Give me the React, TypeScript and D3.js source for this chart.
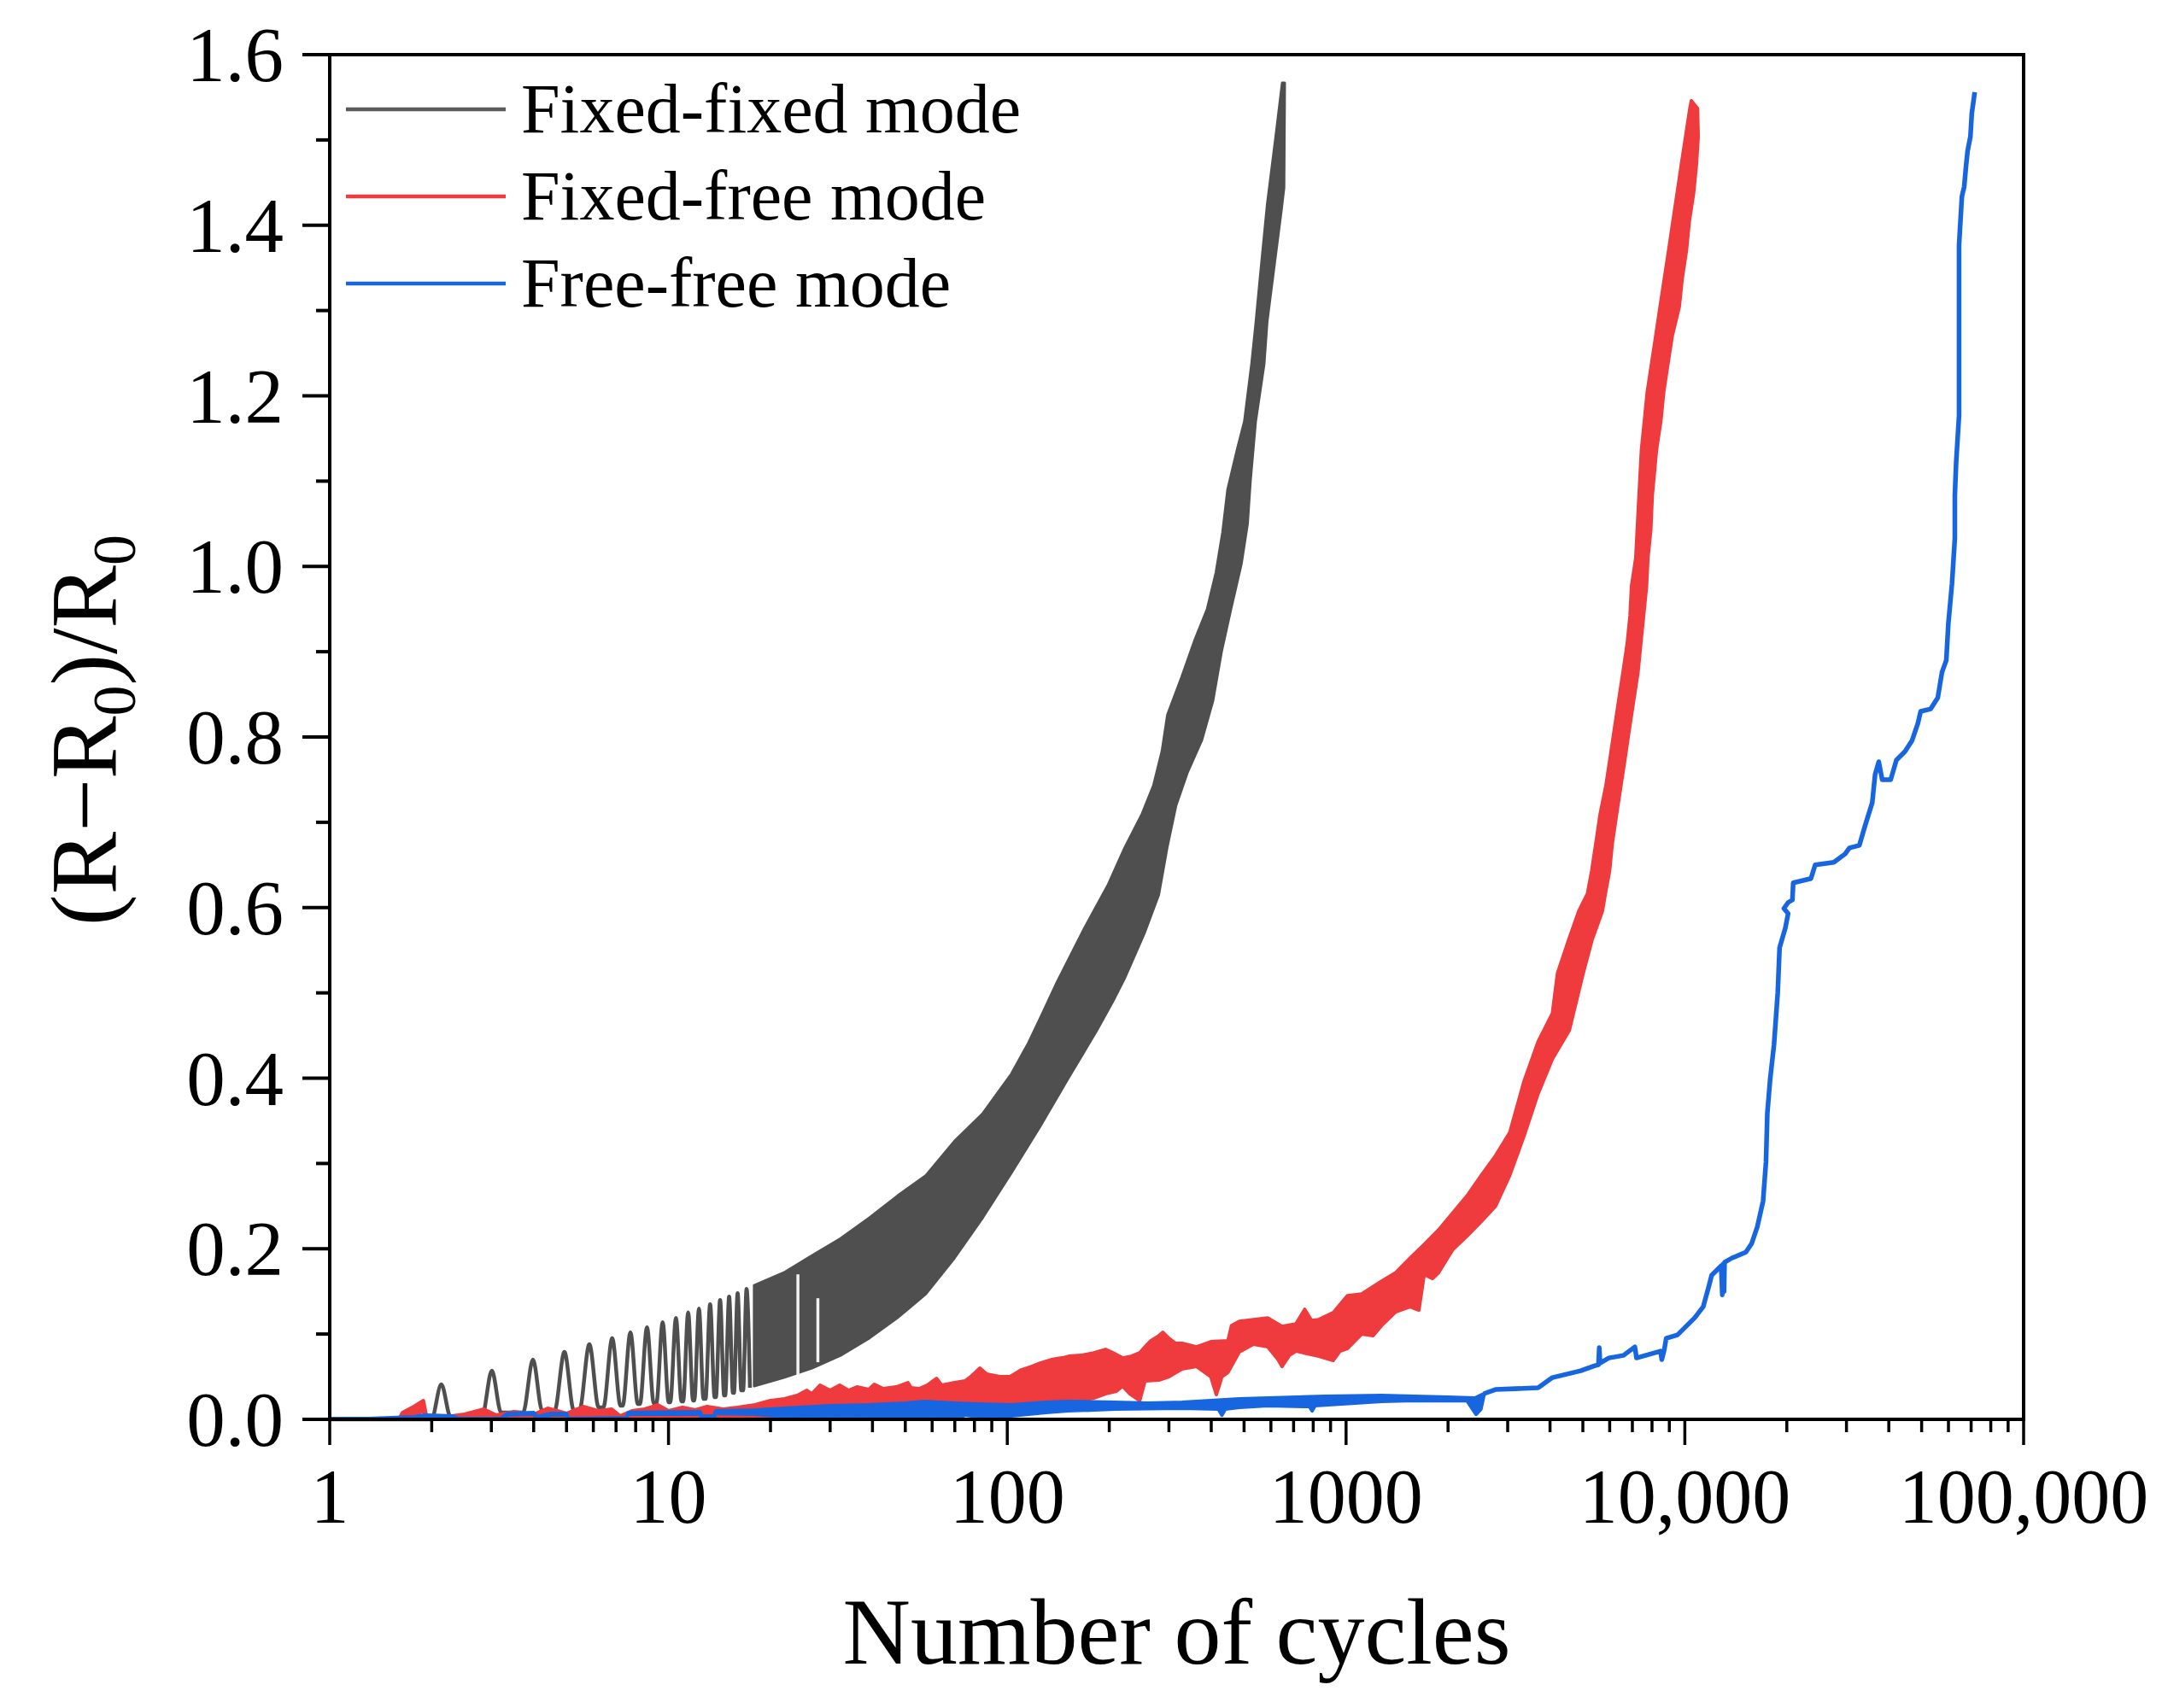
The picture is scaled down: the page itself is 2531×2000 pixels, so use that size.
import React from "react";
import * as d3 from "d3";

// ---------------- data ----------------
// Fixed-fixed mode: discrete early resistance pulses (cycle of peak, peak value, following trough)
const ffPeakCycle = [2.135, 3.01, 3.98, 4.93, 5.84, 6.82, 7.72, 8.64, 9.61, 10.52, 11.43, 12.3, 13.27, 14.2, 15.1, 16.0, 17.0];
const ffPeakValue = [0.041, 0.057, 0.07, 0.079, 0.088, 0.095, 0.102, 0.108, 0.114, 0.119, 0.1255, 0.13, 0.135, 0.14, 0.144, 0.148, 0.153];
const ffTroughValue = [0.003, 0.008, 0.01, 0.011, 0.014, 0.016, 0.018, 0.019, 0.02, 0.021, 0.022, 0.024, 0.026, 0.028, 0.031, 0.034, 0.037];

// Fixed-fixed mode: dense oscillation band (upper / lower envelopes) [cycles, value]
const ffUpper: [number, number][] = [
  [17.9, 0.157], [21.9, 0.172], [26.5, 0.192], [32.2, 0.212], [39.1, 0.236], [47.4, 0.262], [57.5, 0.286],
  [69.8, 0.326], [84.8, 0.359], [102.8, 0.405], [115, 0.44], [126, 0.473], [140, 0.512], [169, 0.576],
  [198, 0.626], [222, 0.67], [250, 0.71], [270, 0.743], [286, 0.783], [297, 0.826], [327, 0.87], [357, 0.913],
  [389, 0.95], [413, 0.993], [432, 1.04], [447, 1.09], [477, 1.137], [501, 1.17], [526, 1.237], [541, 1.284],
  [557, 1.337], [585, 1.424], [620, 1.504], [648, 1.567],
];
const ffLower: [number, number][] = [
  [17.9, 0.039], [21.9, 0.049], [26.5, 0.06], [32.2, 0.075], [39.1, 0.095], [47.4, 0.119], [57.5, 0.147],
  [69.8, 0.189], [84.8, 0.237], [102.8, 0.289], [124.8, 0.343], [151.4, 0.4], [183.8, 0.456], [205, 0.49],
  [222, 0.517], [254, 0.57], [280, 0.615], [297, 0.672], [315, 0.72], [340, 0.758], [375, 0.796], [405, 0.843],
  [429, 0.9], [455, 0.946], [491, 1.003], [512, 1.05], [522, 1.1], [541, 1.17], [573, 1.237], [585, 1.287],
  [607, 1.337], [644, 1.417], [656, 1.444], [659, 1.567],
];
// pale drop-out lines inside the fixed-fixed band
const ffGapCycle = [24.1, 27.6];
const ffGapTop = [0.17, 0.142];
const ffGapBottom = [0.052, 0.067];

// Fixed-free mode (upper / lower envelopes)
const redUpper: [number, number][] = [
  [1, 0], [1.6, 0], [1.64, 0.008], [1.77, 0.015], [1.89, 0.022], [1.93, 0.004], [2.2, 0.003], [2.5, 0.006],
  [2.85, 0.012], [3.1, 0.005], [3.5, 0.009], [4.0, 0.006], [4.4, 0.013], [5.0, 0.007], [5.6, 0.015], [6.2, 0.01],
  [6.8, 0.012], [7.2, 0.004], [7.8, 0.01], [8.5, 0.012], [9.3, 0.017], [10, 0.01], [11, 0.014], [12, 0.011],
  [13, 0.015], [14.5, 0.012], [16, 0.014], [18, 0.017], [20, 0.022], [22, 0.024], [24, 0.028], [25.6, 0.034],
  [26.5, 0.03], [28, 0.04], [30, 0.034], [32, 0.04], [34, 0.034], [36, 0.038], [39, 0.035], [40.5, 0.041],
  [43, 0.036], [47, 0.038], [50.9, 0.043], [52, 0.037], [55, 0.036], [58, 0.04], [61.8, 0.048], [64, 0.04],
  [70, 0.043], [75, 0.045], [78, 0.05], [80, 0.054], [83, 0.06], [87, 0.053], [95, 0.05], [102, 0.05],
  [110, 0.058], [118, 0.062], [125, 0.066], [135, 0.07], [145, 0.072], [152, 0.074], [165, 0.075], [180, 0.078],
  [195, 0.082], [205, 0.078], [219, 0.072], [232, 0.074], [246, 0.078], [255, 0.085], [265, 0.092], [280, 0.098],
  [288, 0.102], [300, 0.095], [314, 0.089], [330, 0.089], [362, 0.085], [399, 0.091], [448, 0.092], [459, 0.11],
  [484, 0.115], [533, 0.117], [587, 0.119], [647, 0.109], [712, 0.112], [755, 0.129], [790, 0.116], [831, 0.117],
  [916, 0.125], [1009, 0.145], [1112, 0.147], [1273, 0.162], [1402, 0.172], [1545, 0.189], [1701, 0.205],
  [1875, 0.222], [2065, 0.242], [2275, 0.262], [2506, 0.286], [2761, 0.309], [3041, 0.336], [3350, 0.396],
  [3690, 0.443], [4065, 0.476], [4208, 0.523], [4549, 0.563], [4866, 0.596], [5157, 0.616], [5309, 0.643],
  [5465, 0.676], [5626, 0.71], [5848, 0.743], [6020, 0.776], [6198, 0.81], [6380, 0.843], [6568, 0.876],
  [6761, 0.91], [6893, 0.943], [6960, 0.977], [7164, 1.01], [7250, 1.05], [7447, 1.137], [7593, 1.17],
  [7743, 1.204], [7970, 1.237], [8204, 1.27], [8448, 1.304], [8697, 1.337], [8953, 1.37], [9216, 1.404],
  [9485, 1.437], [9765, 1.471], [10053, 1.504], [10350, 1.537], [10452, 1.546],
];
const redLower: [number, number][] = [
  [1, 0], [1.6, 0], [1.77, 0.004], [1.89, 0.01], [1.93, 0], [18, 0], [20, 0.002], [22, 0.003], [24, 0.002],
  [26.5, 0.004], [30, 0.004], [32, 0.005], [36, 0.006], [39, 0.008], [43, 0.005], [47, 0.006], [52, 0.008],
  [58, 0.009], [66, 0.01], [75, 0.012], [80, 0.015], [87, 0.016], [102, 0.016], [118, 0.019], [135, 0.021],
  [152, 0.023], [165, 0.022], [180, 0.025], [195, 0.03], [210, 0.033], [219, 0.039], [230, 0.03], [246, 0.022],
  [255, 0.045], [280, 0.046], [300, 0.05], [328, 0.059], [362, 0.062], [399, 0.05], [414, 0.029], [430, 0.05],
  [448, 0.055], [484, 0.079], [533, 0.088], [587, 0.085], [630, 0.07], [647, 0.062], [680, 0.075], [712, 0.08],
  [831, 0.074], [916, 0.069], [960, 0.08], [1009, 0.083], [1112, 0.1], [1200, 0.098], [1273, 0.11], [1402, 0.126],
  [1545, 0.132], [1640, 0.128], [1701, 0.17], [1800, 0.165], [1875, 0.172], [2065, 0.199], [2275, 0.215],
  [2506, 0.232], [2761, 0.25], [3041, 0.286], [3350, 0.332], [3690, 0.382], [4065, 0.4225], [4560, 0.456],
  [5010, 0.523], [5330, 0.563], [5711, 0.596], [5823, 0.616], [5995, 0.643], [6111, 0.676], [6291, 0.71],
  [6476, 0.743], [6667, 0.776], [6863, 0.81], [7065, 0.843], [7273, 0.876], [7415, 0.91], [7560, 0.943],
  [7708, 0.977], [7782, 1.01], [7934, 1.043], [8014, 1.083], [8249, 1.137], [8491, 1.17], [8659, 1.204],
  [8911, 1.237], [9177, 1.27], [9625, 1.304], [9817, 1.337], [10107, 1.37], [10302, 1.404], [10609, 1.437],
  [10818, 1.471], [10950, 1.504], [10900, 1.537],
];

// Free-free mode: noisy early band + single trace
const blueUpper: [number, number][] = [
  [1, 0.001], [1.3, 0.001], [1.77, 0.003], [1.9, 0.005], [2.3, 0.004], [2.4, 0.001], [3.2, 0.001], [3.35, 0.007],
  [4.0, 0.008], [4.1, 0.003], [4.5, 0.007], [5.0, 0.007], [5.05, 0.001], [7.5, 0.002], [7.6, 0.008], [12.4, 0.009],
  [12.5, 0.004], [13.6, 0.004], [13.8, 0.01], [18, 0.011], [22, 0.013], [30, 0.016], [39, 0.017], [50, 0.019],
  [57, 0.021], [70, 0.019], [82, 0.018], [103, 0.017], [130, 0.02], [151, 0.021], [208, 0.02], [260, 0.019],
  [328, 0.02], [484, 0.024], [864, 0.027], [1273, 0.028], [2000, 0.026], [2400, 0.025], [2550, 0.03],
];
const blueLower: [number, number][] = [
  [1, 0], [1.77, 0.001], [1.9, 0.002], [2.3, 0.002], [2.4, 0], [3.2, 0], [3.35, 0.005], [4.0, 0.006], [4.1, 0.001],
  [4.5, 0.005], [5.0, 0.005], [5.05, 0], [7.5, 0], [7.6, 0.006], [12.4, 0.006], [12.5, 0.002], [13.6, 0.002],
  [13.8, 0.007], [18, 0.006], [22, 0.003], [39, 0.004], [57, 0.004], [68, 0.002], [70, 0], [75, 0.005],
  [82, 0.003], [90, 0], [103, 0.004], [130, 0.008], [151, 0.01], [208, 0.012], [328, 0.013], [420, 0.012],
  [430, 0.005], [440, 0.012], [484, 0.014], [587, 0.016], [780, 0.015], [794, 0.01], [810, 0.016], [1273, 0.021],
  [1500, 0.022], [2275, 0.022], [2420, 0.006], [2500, 0.012], [2550, 0.028],
];
const blueTail: [number, number][] = [
  [2550, 0.03], [2761, 0.035], [3690, 0.037], [4065, 0.049], [4925, 0.057], [5430, 0.063], [5560, 0.064],
  [5590, 0.084], [5620, 0.066], [5967, 0.072], [6590, 0.075], [7120, 0.085], [7200, 0.072], [8480, 0.08],
  [8550, 0.07], [8700, 0.082], [8810, 0.095], [9510, 0.099], [10690, 0.119], [11330, 0.132], [11770, 0.156],
  [12000, 0.169], [12800, 0.18], [12900, 0.146], [12970, 0.182], [13050, 0.15], [13100, 0.184], [13750, 0.189],
  [15140, 0.196], [15740, 0.206], [16370, 0.226], [17020, 0.256], [17360, 0.302], [17520, 0.359], [17860, 0.399],
  [18330, 0.439], [18800, 0.5], [19040, 0.553], [19795, 0.576], [20180, 0.593], [19605, 0.599], [20180, 0.606],
  [20770, 0.609], [20890, 0.629], [23560, 0.634], [24250, 0.65], [27510, 0.653], [29730, 0.663], [30600, 0.67],
  [32750, 0.673], [34040, 0.696], [35740, 0.723], [36440, 0.756], [37360, 0.771], [38240, 0.75], [40510, 0.75],
  [42120, 0.773], [44640, 0.783], [46870, 0.796], [48730, 0.816], [49660, 0.83], [53180, 0.833], [55800, 0.846],
  [57420, 0.876], [59120, 0.89], [59950, 0.933], [61460, 0.98], [62660, 1.033], [62660, 1.083], [63240, 1.123],
  [64480, 1.177], [64480, 1.377], [65740, 1.434], [66760, 1.445], [67680, 1.471], [68330, 1.487], [69660, 1.504],
  [70310, 1.531], [71720, 1.556],
];

// axes
const yTickValues = [0, 0.2, 0.4, 0.6, 0.8, 1.0, 1.2, 1.4, 1.6];
const yTickLabels = ["0.0", "0.2", "0.4", "0.6", "0.8", "1.0", "1.2", "1.4", "1.6"];
const xTickValues = [1, 10, 100, 1000, 10000, 100000];
const xTickLabels = ["1", "10", "100", "1000", "10,000", "100,000"];
const seriesNames = ["Fixed-fixed mode", "Fixed-free mode", "Free-free mode"];

// ---------------- layout / style ----------------
const W = 2531;
const H = 2000;
const X0 = 386, X1 = 2369, YB = 1662, YT = 64;
const FONT = '"Liberation Serif", "Times New Roman", Times, serif';
const GRAY = "#4f4f4f";
const RED = "#ef3b3d";
const BLUE = "#1766e0";
const seriesColors = ["#5a5a5a", RED, BLUE];

const x = d3.scaleLog().domain([1, 100000]).range([X0, X1]);
const y = d3.scaleLinear().domain([0, 1.6]).range([YB, YT]);

const lineGen = d3.line<[number, number]>().x((d) => x(d[0])).y((d) => y(d[1]));
const pulseGen = d3
  .line<[number, number]>()
  .x((d) => x(d[0]))
  .y((d) => y(d[1]))
  .curve(d3.curveMonotoneX);

function bandPath(upper: [number, number][], lower: [number, number][]) {
  const pts = [...upper, ...lower.slice().reverse()];
  return (lineGen(pts) || "") + "Z";
}

function pulsePoints(): [number, number][] {
  const pts: [number, number][] = [[1, 0]];
  ffPeakCycle.forEach((c, i) => {
    const left = i > 0 ? c - ffPeakCycle[i - 1] : 1;
    const right = i < ffPeakCycle.length - 1 ? ffPeakCycle[i + 1] - c : 0.9;
    const h = Math.min(0.065 * c, 0.44 * Math.min(left, right));
    const prevT = i > 0 ? ffTroughValue[i - 1] : 0;
    pts.push([c - h, prevT], [c, ffPeakValue[i]], [c + h, ffTroughValue[i]]);
  });
  return pts;
}

export default function App() {
  const minorX: number[] = [];
  [1, 10, 100, 1000, 10000].forEach((d) => {
    for (let k = 2; k <= 9; k++) minorX.push(d * k);
  });
  const minorY = [0.1, 0.3, 0.5, 0.7, 0.9, 1.1, 1.3, 1.5];
  const legendY = [128, 230, 332];

  return (
    <svg
      width={W}
      height={H}
      viewBox={`0 0 ${W} ${H}`}
      style={{ position: "absolute", left: 0, top: 0, background: "#fff" }}
      fontFamily={FONT}
    >
      <rect x={0} y={0} width={W} height={H} fill="#fff" />
      <defs>
        <clipPath id="plotClip">
          <rect x={X0} y={YT} width={X1 - X0} height={YB - YT + 4} />
        </clipPath>
      </defs>

      <g clipPath="url(#plotClip)">
        {/* Fixed-fixed */}
        <path d={pulseGen(pulsePoints()) || ""} fill="none" stroke={GRAY} strokeWidth={4.5} strokeLinejoin="round" />
        <path d={bandPath(ffUpper, ffLower)} fill={GRAY} stroke={GRAY} strokeWidth={3} strokeLinejoin="round" />
        {ffGapCycle.map((c, i) => (
          <line
            key={"gap" + i}
            x1={x(c)}
            x2={x(c)}
            y1={y(ffGapTop[i])}
            y2={y(ffGapBottom[i])}
            stroke="#f2f2f2"
            strokeWidth={3.5}
          />
        ))}
        {/* Fixed-free */}
        <path d={bandPath(redUpper, redLower)} fill={RED} stroke={RED} strokeWidth={4} strokeLinejoin="round" />
        {/* Free-free */}
        <path d={bandPath(blueUpper, blueLower)} fill={BLUE} stroke={BLUE} strokeWidth={4.2} strokeLinejoin="round" />
        <path d={lineGen(blueTail) || ""} fill="none" stroke={BLUE} strokeWidth={5.5} strokeLinejoin="round" />
      </g>

      {/* frame */}
      <rect x={X0} y={YT} width={X1 - X0} height={YB - YT} fill="none" stroke="#000" strokeWidth={4} />

      {/* y ticks */}
      {yTickValues.map((v, i) => (
        <g key={"yt" + i}>
          <line x1={X0 - 32} x2={X0} y1={y(v)} y2={y(v)} stroke="#000" strokeWidth={4} />
          <text x={332} y={y(v) + 31} fontSize={91} textAnchor="end" fill="#000">
            {yTickLabels[i]}
          </text>
        </g>
      ))}
      {minorY.map((v, i) => (
        <line key={"ym" + i} x1={X0 - 16} x2={X0} y1={y(v)} y2={y(v)} stroke="#000" strokeWidth={4} />
      ))}

      {/* x ticks */}
      {xTickValues.map((v, i) => (
        <g key={"xt" + i}>
          <line x1={x(v)} x2={x(v)} y1={YB} y2={YB + 30} stroke="#000" strokeWidth={3.5} />
          <text x={x(v)} y={1783} fontSize={90} textAnchor="middle" fill="#000">
            {xTickLabels[i]}
          </text>
        </g>
      ))}
      {minorX.map((v, i) => (
        <line key={"xm" + i} x1={x(v)} x2={x(v)} y1={YB} y2={YB + 15} stroke="#000" strokeWidth={3.5} />
      ))}

      {/* axis titles */}
      <text x={(X0 + X1) / 2} y={1948} fontSize={110} textAnchor="middle" fill="#000">
        Number of cycles
      </text>
      <text transform="translate(136,855) rotate(-90)" fontSize={110} textAnchor="middle" fill="#000">
        (R−R<tspan fontSize={72} dy={22}>0</tspan>
        <tspan dy={-22}>)/R</tspan>
        <tspan fontSize={72} dy={22}>0</tspan>
      </text>

      {/* legend */}
      {seriesNames.map((name, i) => (
        <g key={"lg" + i}>
          <line x1={405} x2={592} y1={legendY[i]} y2={legendY[i]} stroke={seriesColors[i]} strokeWidth={4.5} />
          <text x={610} y={legendY[i] + 27} fontSize={82} fill="#000">
            {name}
          </text>
        </g>
      ))}
    </svg>
  );
}
